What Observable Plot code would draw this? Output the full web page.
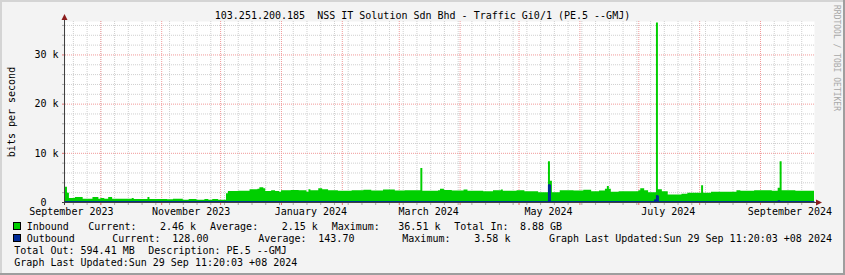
<!DOCTYPE html>
<html><head><meta charset="utf-8">
<script src="https://cdn.jsdelivr.net/npm/d3@7"></script>
<script src="https://cdn.jsdelivr.net/npm/@observablehq/plot@0.6"></script>
<style>
html,body{margin:0;padding:0;background:#f3f3f3}
#chart{position:relative;width:845px;height:275px;background:#f3f3f3;overflow:hidden}
#chart svg{display:block}
#chart svg text{font-family:"DejaVu Sans Mono",monospace}
</style></head><body><div id="chart"></div>
<script>
// ---- data (bits per second, step values per day) ----
const inboundDates = ["2023-09-13","2023-09-14","2023-09-15","2023-09-18","2023-09-22","2023-09-27","2023-09-30","2023-10-01","2023-10-03","2023-10-05","2023-10-07","2023-10-17","2023-10-18","2023-10-25","2023-10-26","2023-11-04","2023-11-07","2023-11-12","2023-11-15","2023-11-19","2023-11-23","2023-11-25","2023-11-27","2023-11-30","2023-12-04","2023-12-05","2023-12-10","2023-12-16","2023-12-20","2023-12-21","2023-12-23","2023-12-24","2023-12-27","2023-12-29","2023-12-31","2024-01-01","2024-01-06","2024-01-10","2024-01-14","2024-01-15","2024-01-16","2024-01-20","2024-01-22","2024-01-25","2024-01-30","2024-02-06","2024-02-12","2024-02-16","2024-02-22","2024-02-28","2024-03-04","2024-03-12","2024-03-13","2024-03-21","2024-03-22","2024-03-24","2024-03-28","2024-04-03","2024-04-05","2024-04-13","2024-04-18","2024-04-22","2024-04-23","2024-04-30","2024-05-04","2024-05-11","2024-05-16","2024-05-17","2024-05-18","2024-05-22","2024-05-29","2024-06-03","2024-06-07","2024-06-11","2024-06-14","2024-06-15","2024-06-16","2024-06-17","2024-06-21","2024-07-01","2024-07-02","2024-07-04","2024-07-06","2024-07-10","2024-07-11","2024-07-13","2024-07-16","2024-07-23","2024-07-26","2024-08-02","2024-08-03","2024-08-07","2024-08-20","2024-08-22","2024-08-29","2024-09-07","2024-09-10","2024-09-11","2024-09-12","2024-09-19","2024-09-28"];
const inboundValues = [3100,1900,800,1000,680,1000,680,800,680,1000,680,800,600,1000,600,550,680,470,600,470,600,470,600,470,1800,2250,2300,2600,2700,3000,2800,2250,2400,2250,2100,2400,2450,2400,2100,2600,2400,2800,2600,2400,2300,2400,2500,2350,2550,2350,2400,6900,2300,2400,2700,2450,2350,2550,2300,2200,2400,2550,2300,2400,2200,2000,8300,4300,2000,2400,2350,2500,2200,2350,2700,3250,2700,2100,2200,2400,2800,2400,2000,36510,2600,2200,1500,1700,1900,3400,1900,2100,2400,2300,2400,2300,2900,8300,2400,2300,2460];
const outboundDates = ["2023-09-13","2024-05-16","2024-05-17","2024-07-09","2024-07-10","2024-07-11","2024-09-10","2024-09-11","2024-09-28"];
const outboundValues = [130,3580,130,500,1350,130,300,130,128];

const xTickDates = ["2023-09-16","2023-11-16","2024-01-16","2024-03-16","2024-05-16","2024-07-16","2024-09-16"];
const xTickLabels = ["September 2023","November 2023","January 2024","March 2024","May 2024","July 2024","September 2024"];
const yTickValues = [0,10000,20000,30000];
const yTickLabels = ["0\u00a0\u00a0","10 k","20 k","30 k"];

const titleText = "103.251.200.185  NSS IT Solution Sdn Bhd - Traffic Gi0/1 (PE.5 --GMJ)";
const yLabel = "bits per second";
const seriesNames = ["Inbound","Outbound"];
const inboundStats = ["2.46 k","2.15 k","36.51 k","8.88 GB"];
const outboundStats = ["128.00","143.70","3.58 k","594.41 MB"];
const description = "PE.5 --GMJ";
const lastUpdated = "Sun 29 Sep 11:20:03 +08 2024";
const watermark = "RRDTOOL / TOBI OETIKER";

// ---- build ----
const start = new Date(Date.UTC(2023,8,13));
const end = new Date(Date.UTC(2024,8,28,12));
const inbound = inboundDates.map((d,i)=>({date:new Date(d), value:inboundValues[i]}));
inbound[inbound.length-1].date = end;
const outbound = outboundDates.map((d,i)=>({date:new Date(d), value:outboundValues[i]}));
outbound[outbound.length-1].date = end;

const weeks = d3.utcSunday.range(start, end);
const months = d3.utcMonth.range(d3.utcMonth.ceil(start), end);
const yMinor = d3.range(2000, 36001, 2000).filter(v => v % 10000 !== 0);
const yMajor = [10000,20000,30000];
const labelMap = new Map(xTickDates.map((d,i)=>[+new Date(d), xTickLabels[i]]));
const yLabelMap = new Map(yTickValues.map((v,i)=>[v, yTickLabels[i]]));

const GRID = "#cfcfcf", MGRID = "#f19a9a";
const W = 845, H = 275;

const plot = Plot.plot({
  width: W, height: H,
  marginLeft: 65, marginRight: 31, marginTop: 21, marginBottom: 73,
  style: {background: "transparent", fontFamily: '"DejaVu Sans Mono", monospace', fontSize: "10px", color: "#000", overflow: "visible"},
  x: {type: "utc", domain: [start, end]},
  y: {domain: [0, 36800]},
  marks: [
    Plot.frame({fill: "#ffffff", stroke: "none"}),
    Plot.ruleX(weeks, {stroke: GRID, strokeDasharray: "1,1"}),
    Plot.ruleY(yMinor, {stroke: GRID, strokeDasharray: "1,1"}),
    Plot.ruleX(months, {stroke: MGRID, strokeDasharray: "1,1"}),
    Plot.ruleY(yMajor, {stroke: MGRID, strokeDasharray: "1,1"}),
    Plot.areaY(inbound, {x: "date", y: "value", curve: "step-after", fill: "#00CF00"}),
    Plot.areaY(outbound, {x: "date", y: "value", curve: "step-after", fill: "#002A97"}),
    Plot.lineY(outbound, {x: "date", y: "value", curve: "step-after", stroke: "#002A97", strokeWidth: 1}),
    Plot.axisX(weeks, {tickSize: 3, stroke: "#aaaaaa", fill: "none", label: null}),
    Plot.axisX(months, {tickSize: 3, stroke: "#e07070", fill: "none", label: null}),
    Plot.axisX(xTickDates.map(d=>new Date(d)), {tickSize: 0, tickPadding: 5, stroke: "none", fill: "#000", tickFormat: d => labelMap.get(+d), label: null}),
    Plot.axisY(yMinor, {tickSize: 3, stroke: "#aaaaaa", fill: "none", label: null}),
    Plot.axisY(yTickValues, {tickSize: 3, tickPadding: 4, stroke: "#e07070", fill: "#000", tickFormat: d => yLabelMap.get(d), label: null}),
    Plot.text([yLabel], {frameAnchor: "left", dx: -53.5, rotate: -90, textAnchor: "middle", fill: "#000", fontSize: 10})
  ]
});

const svg = d3.select(plot);
const fx0 = 65, fx1 = W - 31, fy0 = 21, fy1 = H - 73;
// axes lines & arrows
svg.append("line").attr("x1", fx0 - 0.5).attr("x2", fx0 - 0.5).attr("y1", fy0 - 1).attr("y2", fy1 + 3).attr("stroke", "#404040");
svg.append("line").attr("x1", fx0 - 3).attr("x2", fx1 + 3).attr("y1", fy1 + 0.5).attr("y2", fy1 + 0.5).attr("stroke", "#404040");
svg.append("path").attr("d", `M${fx0-3.5},${fy0-1}L${fx0+2.5},${fy0-1}L${fx0-0.5},${fy0-7}Z`).attr("fill", "#8b1c1c");
svg.append("path").attr("d", `M${fx1+2},${fy1-2.5}L${fx1+2},${fy1+3.5}L${fx1+8},${fy1+0.5}Z`).attr("fill", "#8b1c1c");

// title
svg.append("text").attr("x", W/2).attr("y", 19).attr("text-anchor", "middle").attr("font-size", 10).attr("fill", "#000").text(titleText);

// watermark
svg.append("text").attr("transform", "translate(833.5,5) rotate(90)").attr("text-anchor", "start").attr("font-size", 8).attr("fill", "#a8a8a8").text(watermark);

// legend
const lg = svg.append("g").attr("font-size", 10).attr("fill", "#000").attr("text-anchor", "start").style("white-space", "pre");
const put = (t, x, y) => lg.append("text").attr("x", x).attr("y", y).attr("text-anchor", "start").text(t);
lg.append("rect").attr("x", 13.5).attr("y", 222.5).attr("width", 7).attr("height", 7).attr("fill", "#00CF00").attr("stroke", "#000");
lg.append("rect").attr("x", 13.5).attr("y", 234.5).attr("width", 7).attr("height", 7).attr("fill", "#002A97").attr("stroke", "#000");
put(seriesNames[0], 26.7, 230); put("Current:", 88.3, 230); put(inboundStats[0], 160, 230);
put("Average:", 210, 230); put(inboundStats[1], 281.7, 230); put("Maximum:", 331.7, 230);
put(inboundStats[2], 398.3, 230); put("Total In:", 454.3, 230); put(inboundStats[3], 520, 230);
put(seriesNames[1], 26.7, 242); put("Current:", 112.3, 242); put(outboundStats[0], 172.3, 242);
put("Average:", 258.3, 242); put(outboundStats[1], 318.3, 242); put("Maximum:", 402.3, 242);
put(outboundStats[2], 474.3, 242); put("Graph Last Updated:" + lastUpdated, 549, 242);
put("Total Out: " + outboundStats[3], 14.3, 254); put("Description: " + description, 148.3, 254);
put("Graph Last Updated:" + lastUpdated, 14.3, 266);

// 3D frame border
svg.append("rect").attr("x", 0).attr("y", 0).attr("width", W).attr("height", 2).attr("fill", "#d4d4d4");
svg.append("rect").attr("x", 0).attr("y", 0).attr("width", 2).attr("height", H).attr("fill", "#d4d4d4");
svg.append("rect").attr("x", W-2).attr("y", 0).attr("width", 2).attr("height", H).attr("fill", "#9e9e9e");
svg.append("rect").attr("x", 0).attr("y", H-2).attr("width", W).attr("height", 2).attr("fill", "#9e9e9e");

document.getElementById("chart").appendChild(plot);
</script></body></html>
